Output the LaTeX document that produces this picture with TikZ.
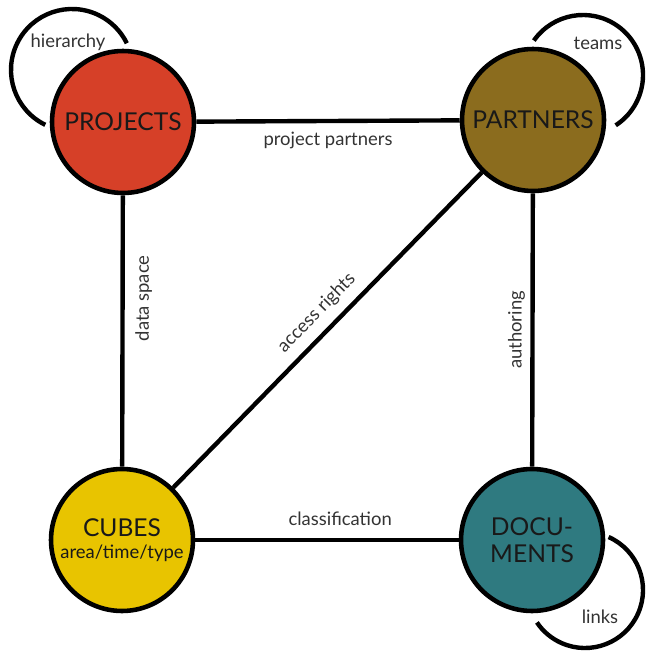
\documentclass[tikz,border=0pt]{standalone}
\usepackage{fontspec}
\setmainfont{Lato}
\definecolor{projred}{RGB}{214,64,40}
\definecolor{partolive}{RGB}{139,108,30}
\definecolor{cubeyellow}{RGB}{232,196,0}
\definecolor{docteal}{RGB}{47,122,128}

\begin{document}
\begin{tikzpicture}[x=0.02cm,y=-0.02cm,
  concept/.style={circle,draw=black,line width=2.6pt,minimum size=2.84cm,inner sep=0pt,
    align=center,text=black!90,font=\fontsize{14}{15.5}\selectfont},
  relation/.style={line width=2.5pt},
  tag/.style={text=black!80,inner sep=2pt,font=\fontsize{10.5}{12}\selectfont}]

\useasboundingbox (0,0) rectangle (645,658);

% self loops, drawn first
\coordinate (hierc) at (72,70);
\coordinate (teamc) at (583,75);
\coordinate (linkc) at (585,590);
\draw[relation] (hierc) ++(116:61) arc[start angle=116,end angle=334,radius=61];
\draw[relation] (teamc) ++(215:60) arc[start angle=215,end angle=417,radius=60];
\draw[relation] (linkc) ++(-66:58) arc[start angle=-66,end angle=146,radius=58];

\node[tag] (hier) at (68,42) {hierarchy};
\node[tag] (teams) at (598,43) {teams};
\node[tag] (links) at (600,617) {links};

% the four concepts
\node[concept,fill=projred] (projects) at (123,122) {PROJECTS};
\node[concept,fill=partolive] (partners) at (533,120) {PARTNERS};
\node[concept,fill=cubeyellow] (cubes) at (122,540) {CUBES\\[-3pt]{\fontsize{10.5}{12}\selectfont area/time/type}};
\node[concept,fill=docteal] (docs) at (532,540) {DOCU-\\MENTS};

% relations
\draw[relation] (projects) -- node[tag,below=3pt] (pp) {project partners} (partners);
\draw[relation] (projects) -- node[tag,pos=0.38,rotate=90,anchor=north,yshift=-4pt] (ds) {data space} (cubes);
\draw[relation] (partners) -- node[tag,rotate=90,anchor=south,yshift=1pt] (auth) {authoring} (docs);
\draw[relation] (cubes) -- node[tag,pos=0.55,above=5pt] (cls) {classification} (docs);
\draw[relation] (cubes) -- node[tag,pos=0.51,sloped,above=3pt] (ar) {access rights} (partners);

\end{tikzpicture}
\end{document}
